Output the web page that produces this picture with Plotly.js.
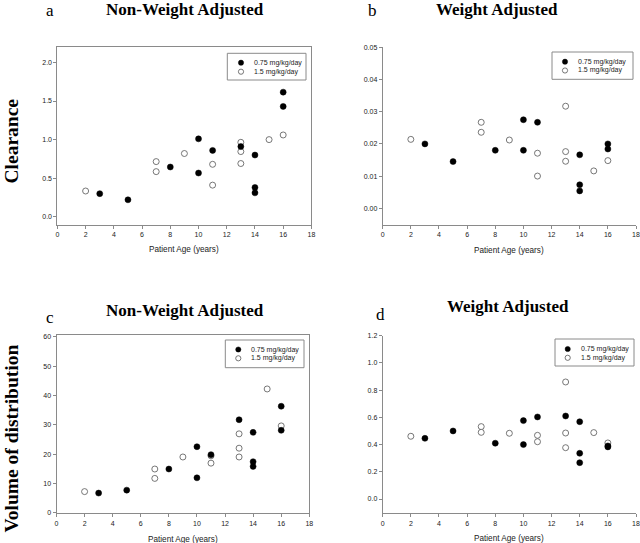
<!DOCTYPE html>
<html>
<head>
<meta charset="utf-8">
<script src="https://cdn.plot.ly/plotly-3.0.1.min.js"></script>
<style>html,body{margin:0;padding:0;background:#fff;}#chart{width:640px;height:543px;}</style>
</head>
<body>
<div id="chart"></div>
<script>
// ---- data ----
var doseLabels = ["0.75 mg/kg/day", "1.5 mg/kg/day"];
var panelTitles = ["Non-Weight Adjusted", "Weight Adjusted", "Non-Weight Adjusted", "Weight Adjusted"];
var panelLetters = ["a", "b", "c", "d"];
var rowTitles = ["Clearance", "Volume of distribution"];
var xTitle = "Patient Age (years)";

// Clearance, non-weight adjusted (a)
var ageA_low  = [3, 5, 8, 10, 10, 11, 13, 14, 14, 14, 16, 16];
var clA_low   = [0.30, 0.22, 0.645, 1.01, 0.567, 0.86, 0.91, 0.80, 0.38, 0.31, 1.615, 1.43];
var ageA_high = [2, 7, 7, 9, 11, 11, 13, 13, 13, 15, 16];
var clA_high  = [0.334, 0.715, 0.585, 0.82, 0.68, 0.41, 0.965, 0.845, 0.69, 1.0, 1.06];

// Clearance, weight adjusted (b)
var ageB_low  = [3, 5, 8, 10, 10, 11, 14, 14, 14, 16, 16];
var clB_low   = [0.0200, 0.0145, 0.0180, 0.0275, 0.0180, 0.0267, 0.0166, 0.0073, 0.0054, 0.0200, 0.0184];
var ageB_high = [2, 7, 7, 9, 11, 11, 13, 13, 13, 15, 16];
var clB_high  = [0.0214, 0.0267, 0.0236, 0.0212, 0.0171, 0.0100, 0.0317, 0.0176, 0.0146, 0.0116, 0.0148];

// Volume of distribution, non-weight adjusted (c)
var ageC_low  = [3, 5, 8, 10, 10, 11, 13, 14, 14, 14, 16, 16];
var vdC_low   = [6.7, 7.7, 14.9, 22.5, 11.9, 19.8, 31.7, 27.4, 17.4, 15.8, 36.3, 28.1];
var ageC_high = [2, 7, 7, 9, 11, 11, 13, 13, 13, 15, 16];
var vdC_high  = [7.2, 14.9, 11.7, 19.0, 19.4, 16.9, 26.9, 22.0, 19.0, 42.2, 29.6];

// Volume of distribution, weight adjusted (d)
var ageD_low  = [3, 5, 8, 10, 10, 11, 13, 14, 14, 14, 16, 16];
var vdD_low   = [0.446, 0.50, 0.41, 0.576, 0.40, 0.603, 0.61, 0.568, 0.336, 0.267, 0.39, 0.383];
var ageD_high = [2, 7, 7, 9, 11, 11, 13, 13, 13, 15, 16];
var vdD_high  = [0.461, 0.532, 0.49, 0.483, 0.468, 0.421, 0.86, 0.485, 0.377, 0.488, 0.412];

// ---- styling / layout helpers ----
var W = 640, H = 543;
function px(x) { return x / W; }
function py(y) { return 1 - y / H; }

var sans = "Liberation Sans, Arial, sans-serif";
var serif = "Liberation Serif, Times New Roman, serif";
var axisGray = "#8a8a8a";

var openMarker = {symbol: "circle", size: 6, color: "#ffffff", line: {color: "#555555", width: 0.8}};
var filledMarker = {symbol: "circle", size: 6, color: "#000000", line: {color: "#000000", width: 0.5}};

function pair(xs1, ys1, xs2, ys2, xa, ya) {
  return [
    {type: "scatter", mode: "markers", x: xs2, y: ys2, xaxis: xa, yaxis: ya, name: doseLabels[1], marker: openMarker, hoverinfo: "x+y"},
    {type: "scatter", mode: "markers", x: xs1, y: ys1, xaxis: xa, yaxis: ya, name: doseLabels[0], marker: filledMarker, hoverinfo: "x+y"}
  ];
}

var traces = []
  .concat(pair(ageA_low, clA_low, ageA_high, clA_high, "x", "y"))
  .concat(pair(ageB_low, clB_low, ageB_high, clB_high, "x2", "y2"))
  .concat(pair(ageC_low, vdC_low, ageC_high, vdC_high, "x3", "y3"))
  .concat(pair(ageD_low, vdD_low, ageD_high, vdD_high, "x4", "y4"));

function xAxis(domain, mirror, anchor) {
  return {
    domain: domain, range: [0, 18], anchor: anchor,
    tickvals: [0, 2, 4, 6, 8, 10, 12, 14, 16, 18],
    ticks: "outside", ticklen: 3, tickwidth: 1, tickcolor: axisGray,
    showline: true, linecolor: axisGray, linewidth: 1, mirror: mirror,
    showgrid: false, zeroline: false,
    tickfont: {family: sans, size: 7, color: "#222"}
  };
}
function yAxis(domain, range, tickvals, fmt, mirror, anchor) {
  return {
    domain: domain, range: range, anchor: anchor,
    tickvals: tickvals, tickformat: fmt,
    ticks: "outside", ticklen: 3, tickwidth: 1, tickcolor: axisGray,
    showline: true, linecolor: axisGray, linewidth: 1, mirror: mirror,
    showgrid: false, zeroline: false,
    tickfont: {family: sans, size: 7, color: "#222"}
  };
}

var boxes = {
  a: {x0: 57.4, x1: 311.4, y0: 47, y1: 224.5},
  b: {x0: 382.7, x1: 636, y0: 47.3, y1: 225},
  c: {x0: 56.5, x1: 309.3, y0: 335, y1: 513.3},
  d: {x0: 382.7, x1: 636, y0: 335.7, y1: 513.3}
};
function xd(b) { return [px(b.x0), px(b.x1)]; }
function yd(b) { return [py(b.y1), py(b.y0)]; }

var layout = {
  width: W, height: H,
  margin: {l: 0, r: 0, t: 0, b: 0, pad: 0},
  paper_bgcolor: "#ffffff", plot_bgcolor: "#ffffff",
  showlegend: false,
  font: {family: sans, size: 7, color: "#222"},
  xaxis:  xAxis(xd(boxes.a), true, "y"),
  yaxis:  yAxis(yd(boxes.a), [-0.1, 2.2], [0, 0.5, 1.0, 1.5, 2.0], ".1f", true, "x"),
  xaxis2: xAxis(xd(boxes.b), false, "y2"),
  yaxis2: yAxis(yd(boxes.b), [-0.0052, 0.05], [0, 0.01, 0.02, 0.03, 0.04, 0.05], ".2f", false, "x2"),
  xaxis3: xAxis(xd(boxes.c), true, "y3"),
  yaxis3: yAxis(yd(boxes.c), [-0.2, 60.6], [0, 10, 20, 30, 40, 50, 60], "d", true, "x3"),
  xaxis4: xAxis(xd(boxes.d), false, "y4"),
  yaxis4: yAxis(yd(boxes.d), [-0.105, 1.2], [0, 0.2, 0.4, 0.6, 0.8, 1.0, 1.2], ".1f", false, "x4"),
  annotations: [],
  shapes: []
};

function ann(text, x, y, opts) {
  var a = {text: text, x: px(x), y: py(y), xref: "paper", yref: "paper", showarrow: false,
           xanchor: "center", yanchor: "middle", borderpad: 0, font: {family: sans, size: 7, color: "#222"}};
  for (var k in opts) a[k] = opts[k];
  layout.annotations.push(a);
}

// panel titles and letters
var titleFont = {family: serif, size: 17, color: "#000"};
var letterFont = {family: serif, size: 17, color: "#000"};
ann("<b>" + panelTitles[0] + "</b>", 185, 9.5, {font: titleFont});
ann(panelLetters[0], 50, 11, {font: letterFont});
ann("<b>" + panelTitles[1] + "</b>", 497, 9.5, {font: titleFont});
ann(panelLetters[1], 372, 11, {font: letterFont});
ann("<b>" + panelTitles[2] + "</b>", 185, 310, {font: titleFont});
ann(panelLetters[2], 50, 317.5, {font: letterFont});
ann("<b>" + panelTitles[3] + "</b>", 507.5, 306, {font: titleFont});
ann(panelLetters[3], 380, 314, {font: letterFont});

// row (y-axis) titles
var rowFont = {family: serif, size: 19.5, color: "#000"};
ann("<b>" + rowTitles[0] + "</b>", 10.5, 141, {font: rowFont, textangle: -90});
ann("<b>" + rowTitles[1] + "</b>", 10.5, 439, {font: rowFont, textangle: -90});

// x-axis titles
var xtFont = {family: sans, size: 8.2, color: "#222"};
ann(xTitle, 184, 250, {font: xtFont});
ann(xTitle, 509, 250.7, {font: xtFont});
ann(xTitle, 183, 539, {font: xtFont});
ann(xTitle, 509, 538.3, {font: xtFont});

// legends (box + symbols + labels)
var legends = [
  {x0: 227.3, x1: 306, y0: 53.3, y1: 80, mx: 241, tx: 253.3, r1: 62.7, r2: 71.7},
  {x0: 552, x1: 633, y0: 52, y1: 79.3, mx: 565, tx: 577, r1: 61.7, r2: 70.5},
  {x0: 225.3, x1: 304, y0: 340, y1: 367.7, mx: 238.3, tx: 250, r1: 349.5, r2: 358.3},
  {x0: 555, x1: 634, y0: 339, y1: 366, mx: 567.7, tx: 580, r1: 349, r2: 357.8}
];
legends.forEach(function (L) {
  layout.shapes.push({type: "rect", xref: "paper", yref: "paper",
    x0: px(L.x0), x1: px(L.x1), y0: py(L.y1), y1: py(L.y0),
    line: {color: "#8a8a8a", width: 1}, fillcolor: "rgba(0,0,0,0)"});
  layout.shapes.push({type: "circle", xref: "paper", yref: "paper", xsizemode: "pixel", ysizemode: "pixel",
    xanchor: px(L.mx), yanchor: py(L.r1), x0: -2.6, x1: 2.6, y0: -2.6, y1: 2.6,
    fillcolor: "#000", line: {color: "#000", width: 0.5}});
  layout.shapes.push({type: "circle", xref: "paper", yref: "paper", xsizemode: "pixel", ysizemode: "pixel",
    xanchor: px(L.mx), yanchor: py(L.r2), x0: -2.6, x1: 2.6, y0: -2.6, y1: 2.6,
    fillcolor: "#fff", line: {color: "#555", width: 0.8}});
  ann(doseLabels[0], L.tx, L.r1, {xanchor: "left", font: {family: sans, size: 7, color: "#222"}});
  ann(doseLabels[1], L.tx, L.r2, {xanchor: "left", font: {family: sans, size: 7, color: "#222"}});
});

Plotly.newPlot("chart", traces, layout, {displayModeBar: false, staticPlot: true});
</script>
</body>
</html>
